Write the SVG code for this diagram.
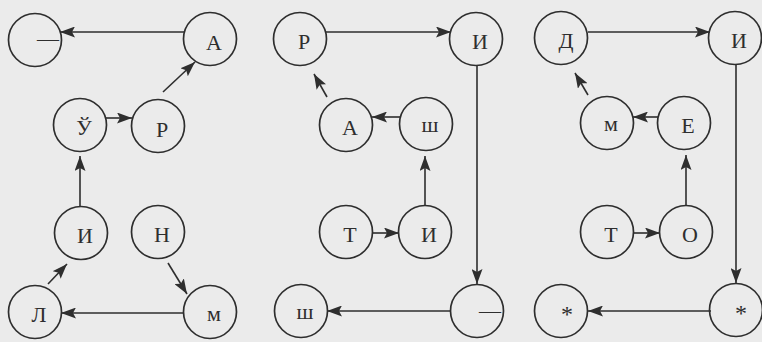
<svg xmlns="http://www.w3.org/2000/svg" width="762" height="342" viewBox="0 0 762 342">
<style>
.bg{fill:#ebebeb}
.n circle{fill:none;stroke:#2e2e2e;stroke-width:1.7}
.n text{font-family:"Liberation Serif","DejaVu Serif",serif;font-size:22px;fill:#2e2e2e;text-anchor:middle}
.n text.d{text-anchor:start;font-size:22px}
.n text.s{font-size:24px}
#edges line{stroke:#2e2e2e;stroke-width:1.6;marker-end:url(#ah)}
</style>
<defs>
<marker id="ah" viewBox="0 0 15 11" refX="15" refY="5.5" markerWidth="15" markerHeight="11" markerUnits="userSpaceOnUse" orient="auto">
<path d="M0,0 L15,5.5 L0,11 L3,5.5 z" fill="#2e2e2e"/>
</marker>
</defs>
<rect class="bg" x="0" y="0" width="762" height="342"/>

<g id="edges">
<!-- panel 1 -->
<line x1="184" y1="32" x2="60" y2="32"/>
<line x1="163" y1="92" x2="195" y2="62"/>
<line x1="106" y1="118" x2="132" y2="118"/>
<line x1="80" y1="207" x2="80" y2="156"/>
<line x1="48" y1="284" x2="67" y2="264"/>
<line x1="168" y1="263" x2="187" y2="294"/>
<line x1="184" y1="313" x2="61" y2="313"/>
<!-- panel 2 -->
<line x1="326" y1="32" x2="451" y2="32"/>
<line x1="401" y1="117" x2="372" y2="117"/>
<line x1="327" y1="97" x2="314" y2="74"/>
<line x1="425" y1="206" x2="425" y2="156"/>
<line x1="372" y1="233" x2="399" y2="233"/>
<line x1="477" y1="65" x2="477" y2="284"/>
<line x1="451" y1="311" x2="327" y2="311"/>
<!-- panel 3 -->
<line x1="588" y1="32" x2="710" y2="32"/>
<line x1="658" y1="117" x2="633" y2="117"/>
<line x1="588" y1="95" x2="575" y2="73"/>
<line x1="686" y1="206" x2="686" y2="155"/>
<line x1="633" y1="233" x2="660" y2="233"/>
<line x1="736" y1="64" x2="736" y2="283"/>
<line x1="711" y1="311" x2="588" y2="311"/>
</g>

<!-- panel 1 nodes -->
<g id="p1-dash" class="n"><circle cx="35" cy="40" r="26.5"/><text class="d" x="37" y="46">—</text></g>
<g id="p1-a" class="n"><circle cx="210" cy="39" r="26.5"/><text x="214" y="50">А</text></g>
<g id="p1-u" class="n"><circle cx="80" cy="125" r="26.5"/><text x="84" y="135">Ў</text></g>
<g id="p1-r" class="n"><circle cx="158" cy="126" r="26.5"/><text x="162" y="137">Р</text></g>
<g id="p1-i" class="n"><circle cx="81" cy="233" r="26.5"/><text x="85" y="243">И</text></g>
<g id="p1-n" class="n"><circle cx="158" cy="232" r="26.5"/><text x="162" y="242">Н</text></g>
<g id="p1-l" class="n"><circle cx="35" cy="312" r="26.5"/><text x="39" y="322">Л</text></g>
<g id="p1-m" class="n"><circle cx="210" cy="312" r="26.5"/><text x="214" y="321">м</text></g>

<!-- panel 2 nodes -->
<g id="p2-r" class="n"><circle cx="300" cy="39" r="26.5"/><text x="304" y="49">Р</text></g>
<g id="p2-i" class="n"><circle cx="476" cy="39" r="26.5"/><text x="480" y="49">И</text></g>
<g id="p2-a" class="n"><circle cx="346" cy="125" r="26.5"/><text x="350" y="135">А</text></g>
<g id="p2-sh" class="n"><circle cx="426" cy="124" r="26.5"/><text x="430" y="132">ш</text></g>
<g id="p2-t" class="n"><circle cx="346" cy="232" r="26.5"/><text x="350" y="242">Т</text></g>
<g id="p2-i2" class="n"><circle cx="425" cy="232" r="26.5"/><text x="429" y="242">И</text></g>
<g id="p2-sh2" class="n"><circle cx="301" cy="311" r="26.5"/><text x="305" y="319">ш</text></g>
<g id="p2-dash" class="n"><circle cx="477" cy="311" r="26.5"/><text class="d" x="479" y="318">—</text></g>

<!-- panel 3 nodes -->
<g id="p3-d" class="n"><circle cx="561" cy="38" r="26.5"/><text x="566" y="48">Д</text></g>
<g id="p3-i" class="n"><circle cx="735" cy="38" r="26.5"/><text x="739" y="48">И</text></g>
<g id="p3-m" class="n"><circle cx="607" cy="123" r="26.5"/><text x="611" y="131">м</text></g>
<g id="p3-e" class="n"><circle cx="684" cy="123" r="26.5"/><text x="688" y="133">Е</text></g>
<g id="p3-t" class="n"><circle cx="607" cy="232" r="26.5"/><text x="611" y="242">Т</text></g>
<g id="p3-o" class="n"><circle cx="686" cy="232" r="26.5"/><text x="690" y="242">О</text></g>
<g id="p3-s1" class="n"><circle cx="561" cy="311" r="26.5"/><text class="s" x="567" y="322">*</text></g>
<g id="p3-s2" class="n"><circle cx="736" cy="310" r="26.5"/><text class="s" x="741" y="321">*</text></g>
</svg>
